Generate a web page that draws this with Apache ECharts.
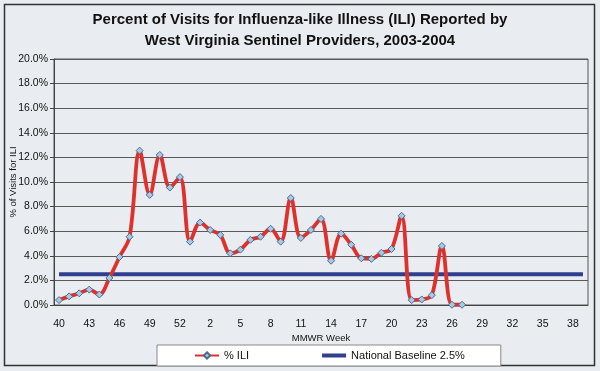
<!DOCTYPE html>
<html><head><meta charset="utf-8">
<script src="https://cdn.jsdelivr.net/npm/echarts@6/dist/echarts.min.js"></script>
<style>html,body{margin:0;padding:0;background:#e9edf1;}#c{width:600px;height:371px;}</style>
</head><body><div id="c"></div>
<script>
const weeks = ['40','41','42','43','44','45','46','47','48','49','50','51','52','53',
  '1','2','3','4','5','6','7','8','9','10','11','12','13','14','15','16','17','18','19','20',
  '21','22','23','24','25','26','27','28','29','30','31','32','33','34','35','36','37','38','39'];
const iliValues = [0.4,0.7,0.95,1.25,0.85,2.2,3.9,5.55,12.55,8.95,12.2,9.55,10.4,5.15,
  6.7,6.1,5.7,4.2,4.5,5.3,5.55,6.2,5.15,8.7,5.45,6.1,7.0,3.6,5.8,4.9,3.8,3.75,4.25,4.55,
  7.25,0.4,0.45,0.8,4.8,0.02,0.02,null,null,null,null,null,null,null,null,null,null,null,null];
const baselineValue = 2.5;
const baselineValues = weeks.map(() => baselineValue);
const yTicks = [0,2,4,6,8,10,12,14,16,18,20];

const chart = echarts.init(document.getElementById('c'));
chart.setOption({
  backgroundColor: '#e9edf1',
  animation: false,
  title: {
    text: 'Percent of Visits for Influenza-like Illness (ILI) Reported by\nWest Virginia Sentinel Providers, 2003-2004',
    left: 'center', top: 4,
    textStyle: {fontFamily: 'Liberation Sans', fontSize: 15, fontWeight: 'bold', color: '#111', lineHeight: 21.5}
  },
  graphic: [{type: 'rect', shape: {x: 4.5, y: 4.5, width: 590, height: 361}, style: {fill: 'none', stroke: '#333', lineWidth: 1.5}, silent: true}],
  grid: {left: 54, right: 12, top: 59, bottom: 66, outerBoundsMode: 'none', containLabel: false,
    show: true, borderColor: '#555', borderWidth: 1, backgroundColor: 'transparent'},
  legend: {
    left: 157, top: 345, padding: [5, 36, 5, 37], itemGap: 73,
    backgroundColor: '#ffffff', borderColor: '#888', borderWidth: 1, borderRadius: 0,
    itemWidth: 24, itemHeight: 8,
    textStyle: {fontFamily: 'Liberation Sans', fontSize: 11, color: '#111'},
    data: [
      {name: '% ILI'},
      {name: 'National Baseline 2.5%', icon: 'path://M0,0L24,0L24,4L0,4Z'}
    ]
  },
  xAxis: {
    type: 'category', data: weeks, boundaryGap: true,
    name: 'MMWR Week', nameLocation: 'middle', nameGap: 28, nameMoveOverlap: false,
    nameTextStyle: {fontFamily: 'Liberation Sans', fontSize: 9.5, color: '#111'},
    axisLine: {lineStyle: {color: '#444', width: 1}},
    axisTick: {interval: 0, length: 4, lineStyle: {color: '#444'}},
    axisLabel: {interval: 2, fontFamily: 'Liberation Sans', fontSize: 10.5, color: '#111', margin: 14},
    splitLine: {show: false}
  },
  yAxis: {
    type: 'value', min: 0, max: 20, interval: 2,
    name: '% of Visits for ILI', nameLocation: 'middle', nameGap: 36, nameRotate: 90, nameMoveOverlap: false,
    nameTextStyle: {fontFamily: 'Liberation Sans', fontSize: 9.5, color: '#111'},
    axisLine: {show: true, lineStyle: {color: '#444', width: 1}},
    axisTick: {show: true, length: 4, lineStyle: {color: '#444'}},
    axisLabel: {fontFamily: 'Liberation Sans', fontSize: 10.5, color: '#111', margin: 6,
      formatter: v => yTicks.includes(v) ? v.toFixed(1) + '%' : ''},
    splitLine: {lineStyle: {color: '#5a5a5a', width: 1}}
  },
  series: [
    {
      name: '% ILI', type: 'line', data: iliValues, smooth: 0.35,
      symbol: 'diamond', symbolSize: 7, showAllSymbol: true,
      lineStyle: {color: '#e0302c', width: 3.8},
      itemStyle: {color: '#a9c8e6', borderColor: '#4d6b8c', borderWidth: 1},
      z: 3
    },
    {
      name: 'National Baseline 2.5%', type: 'line', data: baselineValues,
      symbol: 'none', lineStyle: {color: '#2f3f8e', width: 4},
      itemStyle: {color: '#2f3f8e'}, z: 2
    }
  ]
});
</script></body></html>
